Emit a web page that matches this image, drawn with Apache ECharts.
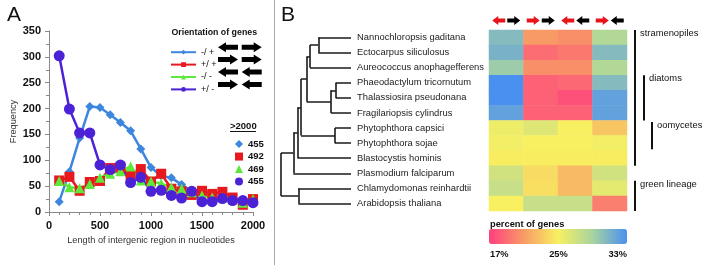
<!DOCTYPE html>
<html>
<head>
<meta charset="utf-8">
<script src="https://cdn.jsdelivr.net/npm/echarts@6/dist/echarts.min.js"></script>
<style>
  html, body { margin: 0; padding: 0; background: #fff; }
  #chart { width: 710px; height: 265px; }
</style>
</head>
<body>
<div id="chart"></div>
<script>
(function () {
    'use strict';

    var FONT = 'Arial, "Liberation Sans", sans-serif';

    // ---- panel A data ----
    var lengths = [100, 200, 300, 400, 500, 600, 700, 800, 900, 1000,
                   1100, 1200, 1300, 1400, 1500, 1600, 1700, 1800, 1900, 2000];
    var minusPlus  = [20, 78, 143, 204, 202, 188, 173, 157, 122, 86, 70, 66, 53, 40, 33, 30, 27, 24, 22, 22];
    var plusPlus   = [61, 68, 41, 58, 60, 85, 86, 71, 83, 59, 74, 45, 40, 33, 41, 35, 39, 28, 14, 25];
    var minusMinus = [60, 48, 46, 54, 66, 74, 79, 88, 61, 59, 55, 48, 45, 38, 32, 28, 28, 24, 18, 25];
    var plusMinus  = [302, 199, 153, 153, 91, 82, 91, 57, 67, 40, 42, 32, 27, 40, 20, 20, 26, 22, 22, 18];
    var orientNames = ['-/ +', '+/ +', '-/ -', '+/ -'];
    var over2000 = [455, 492, 469, 455];
    // direction of first / second gene for each orientation
    var orientDirs = [['l', 'r'], ['r', 'r'], ['l', 'l'], ['r', 'l']];

    // ---- panel B data ----
    var species = ['Nannochloropsis gaditana', 'Ectocarpus siliculosus', 'Aureococcus anophagefferens',
                   'Phaeodactylum tricornutum', 'Thalassiosira pseudonana', 'Fragilariopsis cylindrus',
                   'Phytophthora capsici', 'Phytophthora sojae', 'Blastocystis hominis',
                   'Plasmodium falciparum', 'Chlamydomonas reinhardtii', 'Arabidopsis thaliana'];
    // percent of genes per orientation column (-/+, +/+, -/-, +/-)
    var pctMinusPlus  = [30.5, 31, 29.5, 33, 33, 32, 25.5, 25.3, 24.8, 27, 27.5, 25];
    var pctPlusPlus   = [21, 19, 20.5, 18.5, 18.5, 18.5, 26.3, 25, 24.8, 24, 24.2, 27.5];
    var pctMinusMinus = [20.5, 19.5, 20.5, 18.8, 17.8, 18.5, 25, 25, 24.8, 22.5, 22.5, 27.5];
    var pctPlusMinus  = [28.5, 30.5, 28.5, 30.5, 32, 32, 23, 25.3, 24.8, 27, 26, 19.8];
    var pctTicks = ['17%', '25%', '33%'];
    var groups = [
        { name: 'stramenopiles', from: 0, to: 8, level: 0 },
        { name: 'diatoms', from: 3, to: 5, level: 1 },
        { name: 'oomycetes', from: 6, to: 7, level: 2 },
        { name: 'green lineage', from: 10, to: 11, level: 0 }
    ];
    // dendrogram: h = distance of node from root, leaves sit at LEAF_H
    var LEAF_H = 70;
    var tree = { h: 0, c: [
        { h: 12.3, c: [
            { h: 16.7, c: [
                { h: 20, c: [
                    { h: 25.7, c: [
                        { h: 29, c: [{ h: 37.3, c: [0, 1] }, 2] },
                        { h: 50, c: [{ h: 54.7, c: [3, 4] }, 5] }
                    ] },
                    { h: 54, c: [6, 7] }
                ] },
                8
            ] },
            9
        ] },
        { h: 17.3, c: [10, 11] }
    ] };

    var colors = ['#3d86dd', '#e8191e', '#5ee83c', '#4b22d6'];
    var symbols = ['diamond', 'rect', 'triangle', 'circle'];
    var symbolSizes = [9, 10, 10, 11];
    var lineSeries = [minusPlus, plusPlus, minusMinus, plusMinus];

    function pairs(vals) {
        return vals.map(function (v, i) { return [lengths[i], v]; });
    }

    // dendrogram segments
    var segments = [];
    function walk(node) {
        if (typeof node === 'number') {
            return { y: node, h: LEAF_H };
        }
        var kids = node.c.map(walk);
        var ys = kids.map(function (k) { return k.y; });
        var y0 = Math.min.apply(null, ys), y1 = Math.max.apply(null, ys);
        segments.push({ coords: [[node.h, y0], [node.h, y1]] });
        kids.forEach(function (k) {
            segments.push({ coords: [[node.h, k.y], [k.h, k.y]] });
        });
        return { y: (y0 + y1) / 2, h: node.h };
    }
    walk(tree);

    var heat = [];
    [pctMinusPlus, pctPlusPlus, pctMinusMinus, pctPlusMinus].forEach(function (col, ci) {
        col.forEach(function (v, ri) { heat.push([ci, ri, v]); });
    });

    function arrowPts(cx, cy, dir, len, shaft, head, headLen) {
        var x0 = cx - len / 2, x1 = cx + len / 2;
        var pts = [[x0, cy - shaft / 2], [x1 - headLen, cy - shaft / 2], [x1 - headLen, cy - head / 2],
                   [x1, cy], [x1 - headLen, cy + head / 2], [x1 - headLen, cy + shaft / 2], [x0, cy + shaft / 2]];
        if (dir === 'l') {
            pts = pts.map(function (p) { return [2 * cx - p[0], p[1]]; });
        }
        return pts;
    }
    function arrow(cx, cy, dir, len, shaft, head, headLen, color) {
        return { type: 'polygon', silent: true, shape: { points: arrowPts(cx, cy, dir, len, shaft, head, headLen) },
                 style: { fill: color } };
    }

    var chart = echarts.init(document.getElementById('chart'));

    var series = lineSeries.map(function (vals, i) {
        return {
            name: orientNames[i],
            type: 'line',
            xAxisIndex: 0, yAxisIndex: 0,
            data: pairs(vals),
            symbol: symbols[i],
            symbolSize: symbolSizes[i],
            color: colors[i],
            lineStyle: { width: 2.5, color: colors[i] },
            itemStyle: { color: colors[i] },
            animation: false
        };
    });
    series.push({
        type: 'lines',
        coordinateSystem: 'cartesian2d',
        xAxisIndex: 1, yAxisIndex: 1,
        data: segments,
        lineStyle: { color: '#1a1a1a', width: 1.6, opacity: 1 },
        silent: true,
        animation: false
    });
    series.push({
        type: 'heatmap',
        xAxisIndex: 2, yAxisIndex: 2,
        data: heat,
        animation: false
    });

    var option = {
        backgroundColor: '#fff',
        textStyle: { fontFamily: FONT },
        grid: [
            { left: 49, right: 457, top: 31, bottom: 53 },
            { left: 281, width: 70, top: 30, height: 181 },
            { left: 489, width: 138, top: 30, height: 181 }
        ],
        xAxis: [{
            gridIndex: 0, type: 'value', min: 0, max: 2000, interval: 500,
            name: 'Length of intergenic region in nucleotides',
            nameLocation: 'middle', nameGap: 23,
            nameTextStyle: { fontSize: 9.2, color: '#333', fontFamily: FONT },
            axisLine: { lineStyle: { color: '#888', width: 1 } },
            axisTick: { show: true, length: 4, lineStyle: { color: '#888' } },
            minorTick: { show: true, splitNumber: 5, length: 3, lineStyle: { color: '#888' } },
            splitLine: { show: false },
            axisLabel: { fontSize: 11, fontWeight: 'bold', color: '#111', margin: 8, fontFamily: FONT,
                         formatter: function (v) { return String(v); } }
        }, {
            gridIndex: 1, type: 'value', min: 0, max: LEAF_H, show: false
        }, {
            gridIndex: 2, type: 'category', data: orientNames, show: false
        }],
        yAxis: [{
            gridIndex: 0, type: 'value', min: 0, max: 350, interval: 50,
            name: 'Frequency', nameLocation: 'middle', nameGap: 31,
            nameTextStyle: { fontSize: 9.2, color: '#333', fontFamily: FONT },
            axisLine: { show: true, lineStyle: { color: '#888', width: 1 } },
            axisTick: { show: true, length: 4, lineStyle: { color: '#888' } },
            minorTick: { show: true, splitNumber: 2, length: 3, lineStyle: { color: '#888' } },
            splitLine: { show: false },
            axisLabel: { fontSize: 11, fontWeight: 'bold', color: '#111', margin: 8, fontFamily: FONT }
        }, {
            gridIndex: 1, type: 'value', min: -0.5, max: 11.5, inverse: true, show: false
        }, {
            gridIndex: 2, type: 'category', data: species, inverse: true,
            axisLine: { show: false }, axisTick: { show: false },
            axisLabel: { align: 'left', margin: 132, fontSize: 9.4, color: '#222', fontFamily: FONT }
        }],
        visualMap: {
            type: 'continuous', seriesIndex: 5, min: 17, max: 33,
            orient: 'horizontal', left: 489, top: 229,
            itemWidth: 15, itemHeight: 138, padding: 0,
            calculable: false, text: null, showLabel: false,
            inRange: { color: ['#ff3f7f', '#f89a66', '#f8f060', '#a8d4a0', '#4a90f0'] }
        },
        legend: [{
            data: orientNames,
            orient: 'vertical', left: 165, top: 41,
            itemWidth: 25, itemHeight: 6, itemGap: 0,
            textStyle: { fontSize: 9, lineHeight: 12.4, color: '#111', fontFamily: FONT },
            selectedMode: false
        }, {
            data: orientNames.map(function (n, i) { return { name: n, icon: symbols[i] }; }),
            orient: 'vertical', left: 230, top: 132.8,
            itemWidth: 8, itemHeight: 8, itemGap: 0,
            formatter: function (name) { return String(over2000[orientNames.indexOf(name)]); },
            textStyle: { fontSize: 9.5, fontWeight: 'bold', lineHeight: 12.5, color: '#111', fontFamily: FONT },
            selectedMode: false
        }],
        series: series
    };

    chart.setOption(option);

    // ---- decorations ----
    var g = [];
    g.push({ type: 'text', left: 7, top: 5, silent: true,
             style: { text: 'A', font: '21px ' + FONT, fill: '#111' } });
    g.push({ type: 'text', left: 281, top: 5, silent: true,
             style: { text: 'B', font: '21px ' + FONT, fill: '#111' } });
    g.push({ type: 'line', silent: true, shape: { x1: 274.5, y1: 0, x2: 274.5, y2: 265 },
             style: { stroke: '#aaa', lineWidth: 1 } });

    // panel A legend header + gene arrows
    g.push({ type: 'text', silent: true, x: 171.5, y: 32.5,
             style: { text: 'Orientation of genes', font: 'bold 8.8px ' + FONT, fill: '#111', textVerticalAlign: 'middle' } });
    orientDirs.forEach(function (d, i) {
        var cy = 47.2 + i * 12.4;
        g.push(arrow(228, cy, d[0], 20, 5, 10, 8, '#000'));
        g.push(arrow(251.7, cy, d[1], 20, 5, 10, 8, '#000'));
    });
    g.push({ type: 'text', silent: true, x: 230, y: 126.5,
             style: { text: '>2000', font: 'bold 9.5px ' + FONT, fill: '#111', textVerticalAlign: 'middle' } });
    g.push({ type: 'line', silent: true, shape: { x1: 230, y1: 131.5, x2: 256, y2: 131.5 },
             style: { stroke: '#111', lineWidth: 1 } });

    // panel B column arrows (red = first gene, black = second gene)
    orientDirs.forEach(function (d, i) {
        var c = chart.convertToPixel({ xAxisIndex: 2, yAxisIndex: 2 }, [i, 0])[0];
        g.push(arrow(c - 7.5, 20.5, d[0], 13, 4, 9, 6, '#e8141a'));
        g.push(arrow(c + 7.5, 20.5, d[1], 13, 4, 9, 6, '#000'));
    });

    // group brackets
    var lineX = [635, 644, 652];
    groups.forEach(function (gr) {
        var yTop = chart.convertToPixel({ yAxisIndex: 1 }, gr.from - 0.5);
        var yBot = chart.convertToPixel({ yAxisIndex: 1 }, gr.to + 0.5);
        var x = lineX[gr.level];
        if (gr.name === 'oomycetes') { yTop += 1.5; yBot -= 1.5; }
        g.push({ type: 'line', silent: true, shape: { x1: x, y1: yTop, x2: x, y2: yBot },
                 style: { stroke: '#111', lineWidth: 2 } });
        g.push({ type: 'text', silent: true, x: x + 5, y: yTop - 1,
                 style: { text: gr.name, font: '9.4px ' + FONT, fill: '#111', textVerticalAlign: 'top' } });
    });

    // colour bar labels
    g.push({ type: 'text', silent: true, x: 490, y: 224,
             style: { text: 'percent of genes', font: 'bold 9.3px ' + FONT, fill: '#111', textVerticalAlign: 'middle' } });
    var aligns = ['left', 'center', 'right'];
    pctTicks.forEach(function (t, i) {
        g.push({ type: 'text', silent: true, x: 490 + i * 68.5, y: 254,
                 style: { text: t, font: 'bold 9.3px ' + FONT, fill: '#111', textAlign: aligns[i], textVerticalAlign: 'middle' } });
    });

    chart.setOption({ graphic: g });
})();
</script>
</body>
</html>
